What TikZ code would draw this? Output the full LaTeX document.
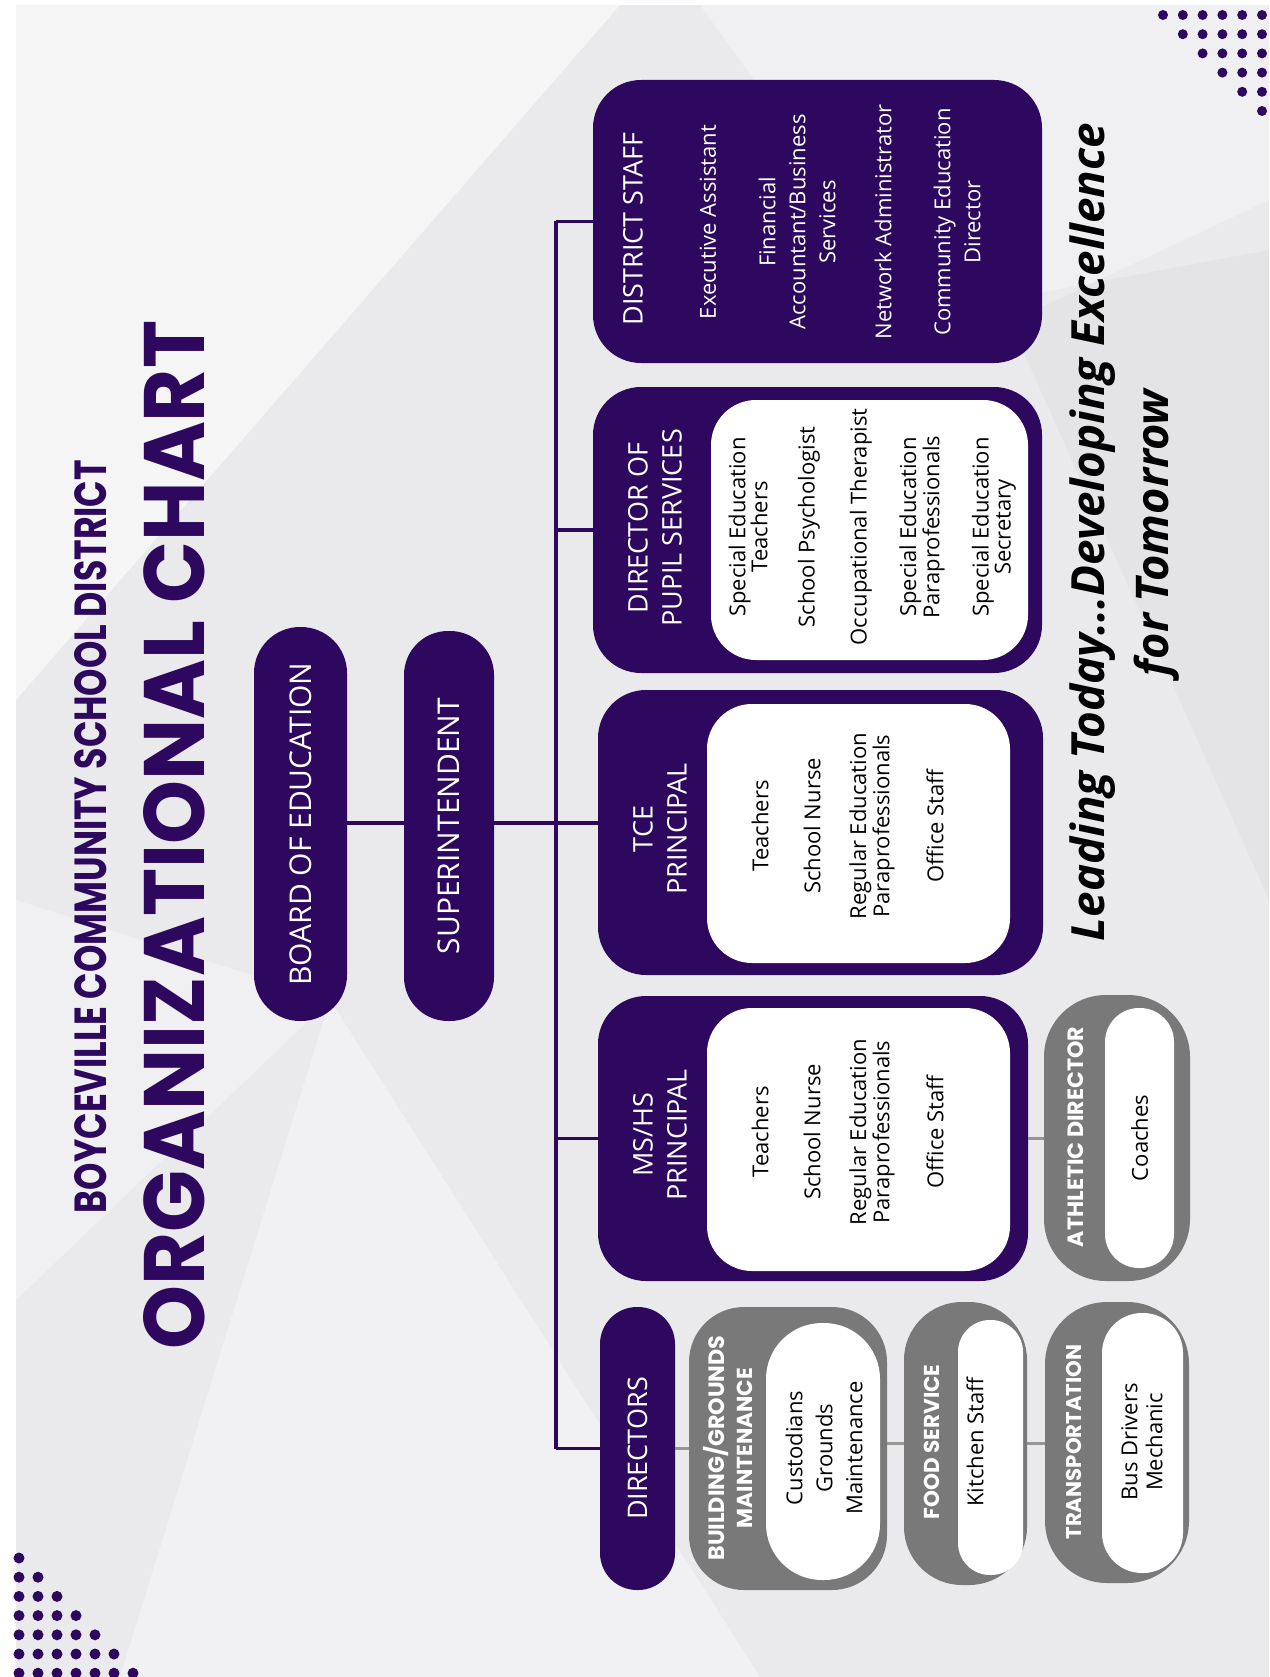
\documentclass[tikz,border=0pt]{standalone}
\usepackage{graphicx}
\usepackage{fontspec}
\setmainfont{Open Sans}
\newfontfamily\heavyfont{Poppins}
\definecolor{brandpurple}{RGB}{46,7,94}
\definecolor{boxgray}{RGB}{121,121,121}
\definecolor{linegray}{RGB}{150,150,150}
\definecolor{bgbase}{RGB}{234,234,237}
\newcommand{\fitlen}[2]{\resizebox{#1pt}{!}{#2}}
\newcommand{\fitbox}[3]{\resizebox{#1pt}{#2pt}{#3}}
\begin{document}
\begin{tikzpicture}[x=1pt,y=1pt,
  boxdim/.style args={#1/#2/#3}{rectangle, draw=none, inner sep=0pt, outer sep=0pt,
    minimum width=#1pt, minimum height=#2pt, rounded corners=#3pt},
  purplefill/.style={fill=brandpurple},
  whitefill/.style={fill=white},
  grayfill/.style={fill=boxgray},
  rtext/.style={rotate=90, inner sep=0pt, align=center},
  hdrtext/.style={rtext, text=white, font=\fontsize{27}{35}\selectfont},
  itemtext/.style={rtext, text=black, font=\fontsize{22}{22}\selectfont},
  ditem/.style={rtext, text=white, font=\fontsize{22}{30}\selectfont},
  graylabel/.style={rtext, text=white, font=\heavyfont\bfseries\fontsize{20}{28}\selectfont},
  pline/.style={draw=brandpurple, line width=3.5pt},
  gline/.style={draw=linegray, line width=3pt},
  dot/.style={fill=brandpurple}
]
\useasboundingbox (0,0) rectangle (1269,-1677);
\clip (0,0) rectangle (1269,-1677);
% background
\fill[white] (0,0) rectangle (1269,-1677);
\fill[bgbase] (16,-5) rectangle (1269,-1677);
\fill[white, opacity=0.55] (16,-5) -- (620,-5) -- (16,-700) -- cycle;
\fill[white, opacity=0.35] (330,-1000) -- (760,-1677) -- (120,-1677) -- cycle;
\fill[white, opacity=0.3] (700,-5) -- (1269,-5) -- (1269,-200) -- (950,-350) -- cycle;
\fill[white, opacity=0.3] (16,-900) -- (330,-1000) -- (16,-1300) -- cycle;
\fill[black, opacity=0.025] (1000,-300) -- (1269,-250) -- (1269,-900) -- cycle;

% dots
\foreach \r in {0,...,5}{
  \foreach \c in {\r,...,5}{
    \fill[dot] ({1163+19.8*\c},{-15-19.2*\r}) circle (5);
  }
}
\foreach \r in {0,...,6}{
  \foreach \c in {0,...,\r}{
    \fill[dot] ({19+19*\c},{-1558-19.2*\r}) circle (5.5);
  }
}

% titles
\node[rtext, text=brandpurple] (title1) at (91,-836.5)
  {\fitbox{753}{32}{\heavyfont\bfseries BOYCEVILLE COMMUNITY SCHOOL DISTRICT}};
\node[rtext, text=brandpurple] (title2) at (174.5,-835)
  {\fitbox{1028}{61}{\heavyfont\bfseries ORGANIZATIONAL CHART}};

% top boxes
\node[boxdim=93/394/46, purplefill] (board) at (300.5,-824) {};
\node[boxdim=90/390/44, purplefill] (super) at (449,-826) {};
\node[hdrtext, font=\fontsize{30}{35}\selectfont] (boardt) at (board.center) {BOARD OF EDUCATION};
\node[hdrtext, font=\fontsize{30}{35}\selectfont] (supert) at (super.center) {SUPERINTENDENT};

\coordinate (bj) at (556,-823);

% connectors (drawn before boxes)
\draw[pline] (board.east |- bj) -- (super.west |- bj);
\draw[pline] (super.east |- bj) -- (bj);

% main boxes
\node[boxdim=449/283/48, purplefill] (dist) at (817.5,-221.5) {};
\node[boxdim=449/286/48, purplefill] (pupil) at (817.5,-530) {};
\node[boxdim=317/260/45, whitefill] (pupilin) at (869.5,-530) {};
\node[boxdim=445/285/48, purplefill] (tce) at (820.5,-832.5) {};
\node[boxdim=303/259/45, whitefill] (tcein) at (858.5,-833.5) {};
\node[boxdim=430/285/48, purplefill] (mshs) at (813,-1138.5) {};
\node[boxdim=303/263/45, whitefill] (mshsin) at (858.5,-1139.5) {};
\node[boxdim=75/283/37, purplefill] (dirs) at (637.5,-1448.5) {};

% gray boxes
\node[boxdim=146/286/62, grayfill] (ath) at (1117,-1138) {};
\node[boxdim=69/260/34, whitefill] (athin) at (1139.5,-1138) {};
\node[boxdim=198/283/55, grayfill] (bldg) at (788,-1448.5) {};
\node[boxdim=114/257/56, whitefill] (bldgin) at (823,-1451.5) {};
\node[boxdim=123/283/58, grayfill] (food) at (965.5,-1443.5) {};
\node[boxdim=65/255/32, whitefill] (foodin) at (990.5,-1447.5) {};
\node[boxdim=144/281/62, grayfill] (trans) at (1117,-1442.5) {};
\node[boxdim=81/260/40, whitefill] (transin) at (1142.5,-1443) {};

% bus and branches
\draw[pline] (bj |- dist.west) -- (bj |- dirs.west);
\draw[pline] (bj |- dist.west) -- (dist.west);
\draw[pline] (bj |- pupil.west) -- (pupil.west);
\draw[pline] (bj) -- (tce.west |- bj);
\draw[pline] (bj |- mshs.west) -- (mshs.west);
\draw[pline] (bj |- dirs.west) -- (dirs.west);
% gray links
\draw[gline] (mshs.east) -- (ath.west |- mshs.east);
\draw[gline] (dirs.east) -- (bldg.west);
\draw[gline] (bldg.east |- food.west) -- (food.west);
\draw[gline] (food.east) -- (trans.west |- food.east);

% district staff
\node[hdrtext] (distt) at (633,-229) {DISTRICT STAFF};
\node[ditem] (ds1) at (708,-222) {Executive Assistant};
\node[ditem] (ds2) at (797,-222) {Financial\\Accountant/Business\\Services};
\node[ditem] (ds3) at (883,-222) {Network Administrator};
\node[ditem] (ds4) at (957,-222) {Community Education\\Director};

% pupil services
\node[hdrtext, font=\fontsize{27}{34}\selectfont] (pupilt) at (655,-528) {DIRECTOR OF\\PUPIL SERVICES};
\node[itemtext] (ps1) at (748,-527) {Special Education\\Teachers};
\node[itemtext] (ps2) at (809,-527) {School Psychologist};
\node[itemtext] (ps3) at (861,-527) {Occupational Therapist};
\node[itemtext] (ps4) at (922,-527) {Special Education\\Paraprofessionals};
\node[itemtext] (ps5) at (994,-527) {Special Education\\Secretary};

% TCE
\node[hdrtext, font=\fontsize{27}{34}\selectfont] (tcet) at (660,-829) {TCE\\PRINCIPAL};
\node[itemtext] (t1) at (760,-826) {Teachers};
\node[itemtext] (t2) at (812,-826) {School Nurse};
\node[itemtext] (t3) at (872,-826) {Regular Education\\Paraprofessionals};
\node[itemtext] (t4) at (935,-826) {Office Staff};

% MS/HS
\node[hdrtext, font=\fontsize{27}{34}\selectfont] (mshst) at (660,-1135) {MS/HS\\PRINCIPAL};
\node[itemtext] (m1) at (760,-1132) {Teachers};
\node[itemtext] (m2) at (812,-1132) {School Nurse};
\node[itemtext] (m3) at (872,-1132) {Regular Education\\Paraprofessionals};
\node[itemtext] (m4) at (935,-1132) {Office Staff};

% athletic
\node[graylabel] (atht) at (1076,-1137) {\fitlen{220}{ATHLETIC DIRECTOR}};
\node[itemtext] (a1) at (athin.center) {Coaches};

% directors
\node[hdrtext] (dirst) at (dirs.center) {DIRECTORS};
\node[graylabel] (bldgt) at (728,-1448) {\fitlen{225}{BUILDING/GROUNDS}\\\fitlen{160}{MAINTENANCE}};
\node[itemtext, font=\fontsize{22}{30}\selectfont] (b1) at (824,-1448) {Custodians\\Grounds\\Maintenance};
\node[graylabel] (foodt) at (932,-1442) {\fitlen{155}{FOOD SERVICE}};
\node[itemtext] (f1) at (975,-1442) {Kitchen Staff};
\node[graylabel] (transt) at (1074,-1442) {\fitlen{195}{TRANSPORTATION}};
\node[itemtext, font=\fontsize{22}{25}\selectfont] (tr1) at (1142,-1442) {Bus Drivers\\Mechanic};

% tagline
\node[rtext, anchor=base, text=black] (tag1) at (1104,-532)
  {\fitlen{818}{\fontsize{40}{40}\selectfont\bfseries\itshape Leading Today...Developing Excellence}};
\node[rtext, anchor=base, text=black] (tag2) at (1168,-533)
  {\fitlen{286}{\fontsize{40}{40}\selectfont\bfseries\itshape for Tomorrow}};
\end{tikzpicture}
\end{document}
